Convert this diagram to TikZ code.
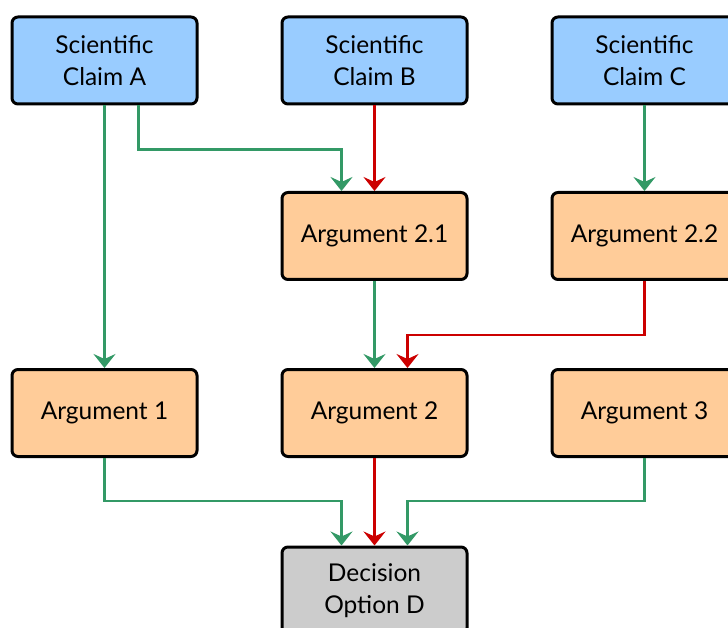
\documentclass[tikz,border=0pt]{standalone}
\usepackage{fontspec}
\setmainfont{Lato}
\usetikzlibrary{arrows.meta}
\definecolor{claimblue}{HTML}{99CCFF}
\definecolor{argorange}{HTML}{FFCC99}
\definecolor{decgray}{HTML}{CCCCCC}
\definecolor{supgreen}{HTML}{339966}
\definecolor{conred}{HTML}{CC0000}
\tikzset{
  box/.style={draw=black, line width=3pt, rounded corners=6pt,
    minimum width=185pt, minimum height=87pt, align=center,
    font=\fontsize{24.5}{32}\selectfont, inner sep=0pt},
  claim/.style={box, fill=claimblue},
  argbox/.style={box, fill=argorange},
  decision/.style={box, fill=decgray},
  link/.style={line width=2.8pt, -{Stealth[length=14pt,width=22pt,inset=5pt]}},
  pro/.style={link, supgreen},
  con/.style={link, conred}
}
\begin{document}
\begin{tikzpicture}[x=1pt,y=-1pt]
\useasboundingbox (0,0) rectangle (728,628);
% claims
\node[claim] (ca) at (104.5,60.5) {Scientific\\Claim A};
\node[claim] (cb) at (374.5,60.5) {Scientific\\Claim B};
\node[claim] (cc) at (644.5,60.5) {Scientific\\Claim C};
% sub-arguments
\node[argbox] (a21) at (374.5,236) {Argument 2.1};
\node[argbox] (a22) at (644.5,236) {Argument 2.2};
% arguments
\node[argbox] (a1) at (104.5,413) {Argument 1};
\node[argbox] (a2) at (374.5,413) {Argument 2};
\node[argbox] (a3) at (644.5,413) {Argument 3};
% decision
\node[decision] (d) at (374.5,590.5) {Decision\\Option D};
% connectors
\draw[pro] (ca.south) -- (a1.north);
\draw[pro] ([xshift=34pt]ca.south) -- ++(0,44) -| ([xshift=-33pt]a21.north);
\draw[con] (cb.south) -- (a21.north);
\draw[pro] (cc.south) -- (a22.north);
\draw[pro] (a21.south) -- (a2.north);
\draw[con] (a22.south) -- ++(0,54) -| ([xshift=33pt]a2.north);
\draw[pro] (a1.south) -- ++(0,43) -| ([xshift=-33pt]d.north);
\draw[con] (a2.south) -- (d.north);
\draw[pro] (a3.south) -- ++(0,43) -| ([xshift=33pt]d.north);
\end{tikzpicture}
\end{document}
